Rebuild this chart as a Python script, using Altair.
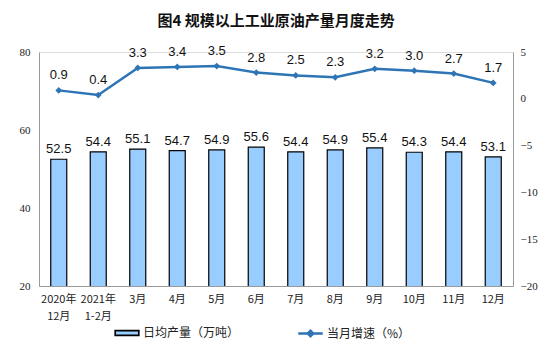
import altair as alt
import pandas as pd

categories = ["2020年|12月", "2021年|1-2月", "3月", "4月", "5月", "6月", "7月",
              "8月", "9月", "10月", "11月", "12月"]
output = [52.5, 54.4, 55.1, 54.7, 54.9, 55.6, 54.4, 54.9, 55.4, 54.3, 54.4, 53.1]
growth = [0.9, 0.4, 3.3, 3.4, 3.5, 2.8, 2.5, 2.3, 3.2, 3.0, 2.7, 1.7]
left_ticks = [20, 40, 60, 80]
right_ticks = [-20, -15, -10, -5, 0, 5]
bar_name = "日均产量（万吨）"
line_name = "当月增速（%）"

df = pd.DataFrame({
    "month": categories,
    "output": output,
    "growth": growth,
    "s1": bar_name,
    "s2": line_name,
})

cjk = "Noto Sans CJK SC"
serif = "Liberation Serif"
sans = "Liberation Sans"
blue = "#2E75B6"

x = alt.X(
    "month:N", sort=categories,
    scale=alt.Scale(paddingInner=0, paddingOuter=0),
    axis=alt.Axis(title=None, labelExpr="split(datum.label, '|')", labelAngle=0,
                  ticks=False, domainColor="#999999", labelFont=cjk, labelFontSize=11,
                  labelColor="#222222", labelPadding=7, labelLineHeight=17, labelBaseline="top"),
)

y_left = alt.Y(
    "output:Q",
    scale=alt.Scale(domain=[20, 80], zero=False, nice=False),
    axis=alt.Axis(title=None, values=left_ticks, grid=False, ticks=False, domainColor="#999999",
                  labelFont=serif, labelFontSize=11, labelColor="#222222", labelPadding=9),
)

y_right = alt.Y(
    "growth:Q",
    scale=alt.Scale(domain=[-20, 5], zero=False, nice=False),
    axis=alt.Axis(title=None, orient="right", values=right_ticks, grid=False, ticks=False,
                  domainColor="#999999", labelFont=serif, labelFontSize=11, labelColor="#222222",
                  labelPadding=7),
)

base = alt.Chart(df)

bars = base.mark_bar(size=16, stroke="black", strokeWidth=1.2, clip=True).encode(
    x=x, y=y_left,
    fill=alt.Fill("s1:N", scale=alt.Scale(domain=[bar_name], range=["#99CCFF"]),
                  legend=alt.Legend(title=None, orient="none", legendX=75, legendY=268,
                                    symbolType="M-1,-0.2H1V0.2H-1Z", symbolSize=560,
                                    symbolStrokeColor="black", symbolStrokeWidth=1.6,
                                    labelFont=cjk, labelFontSize=12, labelColor="#222222",
                                    labelOffset=3, padding=0)),
)
bar_text = base.mark_text(dy=-10, fontSize=13, font=sans, color="#111111").encode(
    x=x, y=y_left, text=alt.Text("output:Q", format=".1f"),
)

line = base.mark_line(strokeWidth=2.5).encode(
    x=x, y=y_right,
    stroke=alt.Stroke("s2:N", scale=alt.Scale(domain=[line_name], range=[blue]),
                      legend=alt.Legend(title=None, orient="none", legendX=258, legendY=268,
                                        symbolType="M-1,0H1M-0.22,0L0,-0.22L0.22,0L0,0.22Z",
                                        symbolSize=600, symbolStrokeWidth=2.5,
                                        symbolFillColor=blue,
                                        labelFont=cjk, labelFontSize=12, labelColor="#222222",
                                        labelOffset=3, padding=0)),
)
points = base.mark_point(shape="diamond", filled=True, size=45, color=blue, opacity=1).encode(
    x=x, y=y_right,
)
line_text = base.mark_text(dy=-15, fontSize=13, font=sans, color="#111111").encode(
    x=x, y=y_right, text=alt.Text("growth:Q", format=".1f"),
)

left_layer = alt.layer(bars, bar_text)
right_layer = alt.layer(line, points, line_text)

chart = alt.layer(left_layer, right_layer).resolve_scale(
    y="independent", fill="independent", stroke="independent"
).properties(
    width=474, height=234,
    autosize=alt.AutoSizeParams(type="none"),
    padding={"left": 31, "top": 44, "right": 33, "bottom": 60},
    title=alt.TitleParams("图4  规模以上工业原油产量月度走势", font=cjk, fontSize=15,
                          fontWeight="bold", color="#111111", anchor="middle", offset=16),
).configure_view(stroke=None).configure(background="white")

chart.save("out.html", embed_options={"renderer": "svg", "actions": False})
